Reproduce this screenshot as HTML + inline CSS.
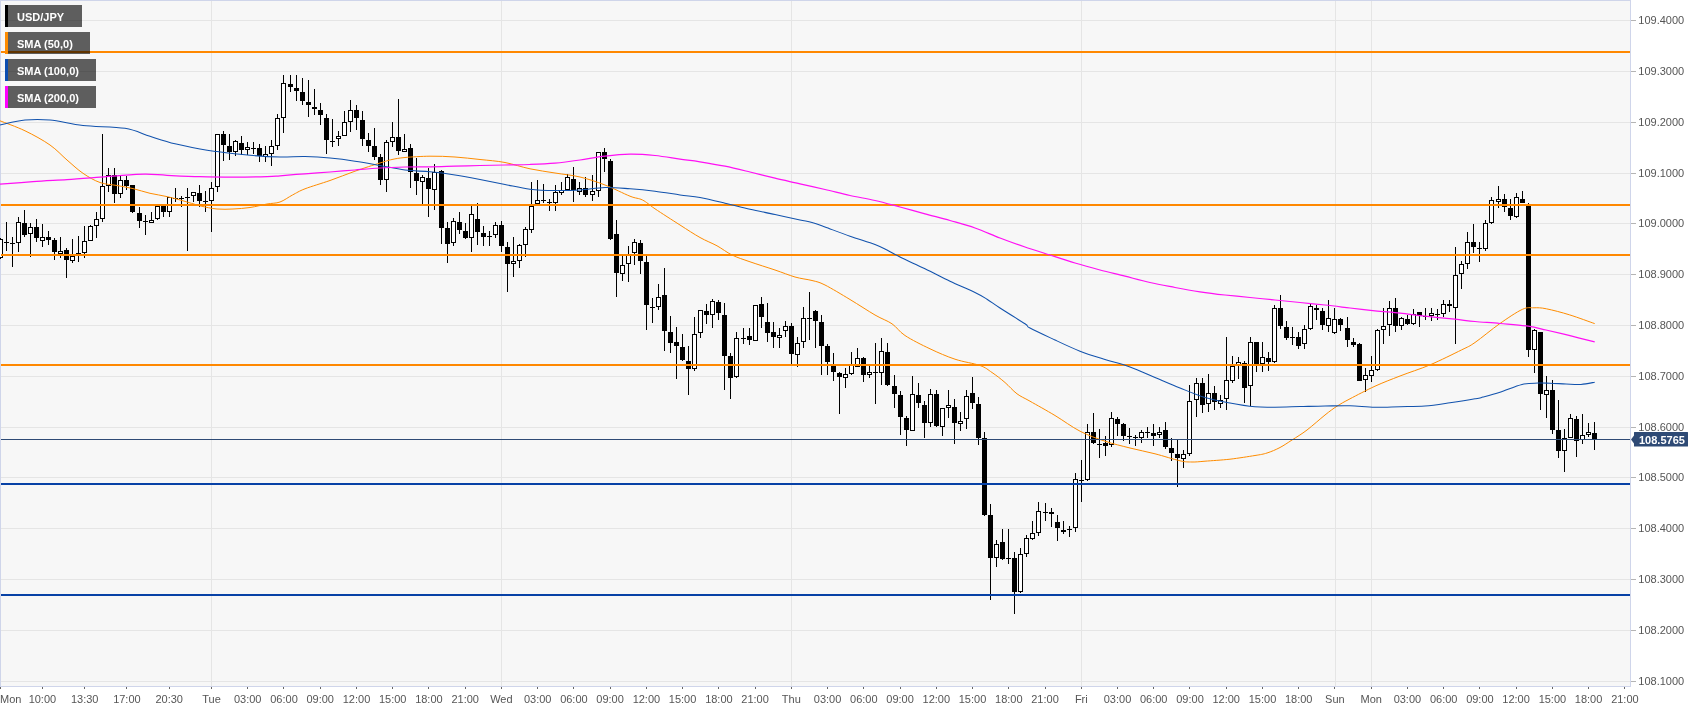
<!DOCTYPE html><html><head><meta charset="utf-8"><title>USD/JPY</title>
<style>html,body{margin:0;padding:0;background:#fff;}body{width:1707px;height:712px;overflow:hidden;font-family:"Liberation Sans",sans-serif;}svg{display:block;will-change:transform;transform:translateZ(0)}text{font-family:"Liberation Sans",sans-serif;font-size:11px;}</style></head><body>
<svg width="1707" height="712" viewBox="0 0 1707 712">
<rect x="0" y="0" width="1707" height="712" fill="#ffffff"/>
<rect x="0" y="0" width="1631" height="687" fill="#f7f7f7"/>
<g shape-rendering="crispEdges" fill="#e5e5e5">
<rect x="1" y="20" width="1629" height="1"/>
<rect x="1" y="71" width="1629" height="1"/>
<rect x="1" y="122" width="1629" height="1"/>
<rect x="1" y="173" width="1629" height="1"/>
<rect x="1" y="223" width="1629" height="1"/>
<rect x="1" y="274" width="1629" height="1"/>
<rect x="1" y="325" width="1629" height="1"/>
<rect x="1" y="376" width="1629" height="1"/>
<rect x="1" y="427" width="1629" height="1"/>
<rect x="1" y="477" width="1629" height="1"/>
<rect x="1" y="528" width="1629" height="1"/>
<rect x="1" y="579" width="1629" height="1"/>
<rect x="1" y="630" width="1629" height="1"/>
<rect x="1" y="681" width="1629" height="1"/>
<rect x="211" y="1" width="1" height="685"/>
<rect x="501" y="1" width="1" height="685"/>
<rect x="791" y="1" width="1" height="685"/>
<rect x="1081" y="1" width="1" height="685"/>
<rect x="1335" y="1" width="1" height="685"/>
<rect x="1371" y="1" width="1" height="685"/>
</g>
<g shape-rendering="crispEdges" fill="#cfd5ea">
<rect x="0" y="0" width="1631" height="1"/><rect x="0" y="0" width="1" height="687"/><rect x="1630" y="0" width="1" height="687"/><rect x="0" y="686" width="1631" height="1"/>
</g>
<g shape-rendering="crispEdges" fill="#b4b4b4">
<rect x="1631" y="20" width="5" height="1"/>
<rect x="1631" y="71" width="5" height="1"/>
<rect x="1631" y="122" width="5" height="1"/>
<rect x="1631" y="173" width="5" height="1"/>
<rect x="1631" y="223" width="5" height="1"/>
<rect x="1631" y="274" width="5" height="1"/>
<rect x="1631" y="325" width="5" height="1"/>
<rect x="1631" y="376" width="5" height="1"/>
<rect x="1631" y="427" width="5" height="1"/>
<rect x="1631" y="477" width="5" height="1"/>
<rect x="1631" y="528" width="5" height="1"/>
<rect x="1631" y="579" width="5" height="1"/>
<rect x="1631" y="630" width="5" height="1"/>
<rect x="1631" y="681" width="5" height="1"/>
</g>
<g fill="#555555">
<text x="1638.3" y="24">109.4000</text>
<text x="1638.3" y="75">109.3000</text>
<text x="1638.3" y="126">109.2000</text>
<text x="1638.3" y="177">109.1000</text>
<text x="1638.3" y="227">109.0000</text>
<text x="1638.3" y="278">108.9000</text>
<text x="1638.3" y="329">108.8000</text>
<text x="1638.3" y="380">108.7000</text>
<text x="1638.3" y="431">108.6000</text>
<text x="1638.3" y="481">108.5000</text>
<text x="1638.3" y="532">108.4000</text>
<text x="1638.3" y="583">108.3000</text>
<text x="1638.3" y="634">108.2000</text>
<text x="1638.3" y="685">108.1000</text>
</g>
<g shape-rendering="crispEdges" fill="#666666">
<rect x="0" y="687" width="1" height="2"/>
<rect x="42" y="687" width="1" height="2"/>
<rect x="84" y="687" width="1" height="2"/>
<rect x="126" y="687" width="1" height="2"/>
<rect x="169" y="687" width="1" height="2"/>
<rect x="211" y="687" width="1" height="2"/>
<rect x="247" y="687" width="1" height="2"/>
<rect x="283" y="687" width="1" height="2"/>
<rect x="320" y="687" width="1" height="2"/>
<rect x="356" y="687" width="1" height="2"/>
<rect x="392" y="687" width="1" height="2"/>
<rect x="428" y="687" width="1" height="2"/>
<rect x="465" y="687" width="1" height="2"/>
<rect x="501" y="687" width="1" height="2"/>
<rect x="537" y="687" width="1" height="2"/>
<rect x="573" y="687" width="1" height="2"/>
<rect x="610" y="687" width="1" height="2"/>
<rect x="646" y="687" width="1" height="2"/>
<rect x="682" y="687" width="1" height="2"/>
<rect x="718" y="687" width="1" height="2"/>
<rect x="755" y="687" width="1" height="2"/>
<rect x="791" y="687" width="1" height="2"/>
<rect x="827" y="687" width="1" height="2"/>
<rect x="863" y="687" width="1" height="2"/>
<rect x="900" y="687" width="1" height="2"/>
<rect x="936" y="687" width="1" height="2"/>
<rect x="972" y="687" width="1" height="2"/>
<rect x="1008" y="687" width="1" height="2"/>
<rect x="1045" y="687" width="1" height="2"/>
<rect x="1081" y="687" width="1" height="2"/>
<rect x="1117" y="687" width="1" height="2"/>
<rect x="1153" y="687" width="1" height="2"/>
<rect x="1189" y="687" width="1" height="2"/>
<rect x="1226" y="687" width="1" height="2"/>
<rect x="1262" y="687" width="1" height="2"/>
<rect x="1298" y="687" width="1" height="2"/>
<rect x="1334" y="687" width="1" height="2"/>
<rect x="1371" y="687" width="1" height="2"/>
<rect x="1407" y="687" width="1" height="2"/>
<rect x="1443" y="687" width="1" height="2"/>
<rect x="1479" y="687" width="1" height="2"/>
<rect x="1516" y="687" width="1" height="2"/>
<rect x="1552" y="687" width="1" height="2"/>
<rect x="1588" y="687" width="1" height="2"/>
<rect x="1624" y="687" width="1" height="2"/>
</g>
<g fill="#555555" text-anchor="middle">
<text x="0" y="703" text-anchor="start">Mon</text>
<text x="42.4" y="703">10:00</text>
<text x="84.7" y="703">13:30</text>
<text x="126.9" y="703">17:00</text>
<text x="169.2" y="703">20:30</text>
<text x="211.5" y="703">Tue</text>
<text x="247.7" y="703">03:00</text>
<text x="284.0" y="703">06:00</text>
<text x="320.2" y="703">09:00</text>
<text x="356.5" y="703">12:00</text>
<text x="392.7" y="703">15:00</text>
<text x="428.9" y="703">18:00</text>
<text x="465.2" y="703">21:00</text>
<text x="501.4" y="703">Wed</text>
<text x="537.7" y="703">03:00</text>
<text x="573.9" y="703">06:00</text>
<text x="610.1" y="703">09:00</text>
<text x="646.4" y="703">12:00</text>
<text x="682.6" y="703">15:00</text>
<text x="718.9" y="703">18:00</text>
<text x="755.1" y="703">21:00</text>
<text x="791.3" y="703">Thu</text>
<text x="827.6" y="703">03:00</text>
<text x="863.8" y="703">06:00</text>
<text x="900.1" y="703">09:00</text>
<text x="936.3" y="703">12:00</text>
<text x="972.5" y="703">15:00</text>
<text x="1008.8" y="703">18:00</text>
<text x="1045.0" y="703">21:00</text>
<text x="1081.3" y="703">Fri</text>
<text x="1117.5" y="703">03:00</text>
<text x="1153.7" y="703">06:00</text>
<text x="1190.0" y="703">09:00</text>
<text x="1226.2" y="703">12:00</text>
<text x="1262.5" y="703">15:00</text>
<text x="1298.7" y="703">18:00</text>
<text x="1334.9" y="703">Sun</text>
<text x="1371.2" y="703">Mon</text>
<text x="1407.4" y="703">03:00</text>
<text x="1443.7" y="703">06:00</text>
<text x="1479.9" y="703">09:00</text>
<text x="1516.1" y="703">12:00</text>
<text x="1552.4" y="703">15:00</text>
<text x="1588.6" y="703">18:00</text>
<text x="1624.9" y="703">21:00</text>
</g>
<g shape-rendering="crispEdges">
<rect x="0" y="238" width="1" height="21" fill="#000"/>
<rect x="-2" y="239" width="5" height="19" fill="#000"/>
<rect x="-1" y="240" width="3" height="17" fill="#fff"/>
<rect x="6" y="222" width="1" height="29" fill="#000"/>
<rect x="4" y="242" width="5" height="1" fill="#000"/>
<rect x="12" y="237" width="1" height="30" fill="#000"/>
<rect x="10" y="243" width="5" height="1" fill="#000"/>
<rect x="18" y="217" width="1" height="35" fill="#000"/>
<rect x="16" y="222" width="5" height="21" fill="#000"/>
<rect x="17" y="223" width="3" height="19" fill="#fff"/>
<rect x="24" y="210" width="1" height="27" fill="#000"/>
<rect x="22" y="223" width="5" height="12" fill="#000"/>
<rect x="30" y="223" width="1" height="34" fill="#000"/>
<rect x="28" y="227" width="5" height="7" fill="#000"/>
<rect x="29" y="228" width="3" height="5" fill="#fff"/>
<rect x="36" y="219" width="1" height="23" fill="#000"/>
<rect x="34" y="227" width="5" height="11" fill="#000"/>
<rect x="42" y="224" width="1" height="23" fill="#000"/>
<rect x="40" y="237" width="5" height="4" fill="#000"/>
<rect x="41" y="238" width="3" height="2" fill="#fff"/>
<rect x="48" y="231" width="1" height="14" fill="#000"/>
<rect x="46" y="237" width="5" height="3" fill="#000"/>
<rect x="54" y="238" width="1" height="22" fill="#000"/>
<rect x="52" y="240" width="5" height="12" fill="#000"/>
<rect x="60" y="237" width="1" height="21" fill="#000"/>
<rect x="58" y="251" width="5" height="3" fill="#000"/>
<rect x="59" y="252" width="3" height="1" fill="#fff"/>
<rect x="66" y="248" width="1" height="30" fill="#000"/>
<rect x="64" y="250" width="5" height="10" fill="#000"/>
<rect x="72" y="239" width="1" height="24" fill="#000"/>
<rect x="70" y="256" width="5" height="5" fill="#000"/>
<rect x="71" y="257" width="3" height="3" fill="#fff"/>
<rect x="78" y="236" width="1" height="26" fill="#000"/>
<rect x="76" y="253" width="5" height="1" fill="#000"/>
<rect x="84" y="226" width="1" height="32" fill="#000"/>
<rect x="82" y="241" width="5" height="12" fill="#000"/>
<rect x="83" y="242" width="3" height="10" fill="#fff"/>
<rect x="90" y="225" width="1" height="16" fill="#000"/>
<rect x="88" y="226" width="5" height="15" fill="#000"/>
<rect x="89" y="227" width="3" height="13" fill="#fff"/>
<rect x="96" y="212" width="1" height="26" fill="#000"/>
<rect x="94" y="219" width="5" height="7" fill="#000"/>
<rect x="95" y="220" width="3" height="5" fill="#fff"/>
<rect x="102" y="134" width="1" height="88" fill="#000"/>
<rect x="100" y="186" width="5" height="33" fill="#000"/>
<rect x="101" y="187" width="3" height="31" fill="#fff"/>
<rect x="108" y="168" width="1" height="24" fill="#000"/>
<rect x="106" y="175" width="5" height="11" fill="#000"/>
<rect x="107" y="176" width="3" height="9" fill="#fff"/>
<rect x="114" y="168" width="1" height="35" fill="#000"/>
<rect x="112" y="175" width="5" height="19" fill="#000"/>
<rect x="120" y="176" width="1" height="22" fill="#000"/>
<rect x="118" y="180" width="5" height="14" fill="#000"/>
<rect x="119" y="181" width="3" height="12" fill="#fff"/>
<rect x="126" y="176" width="1" height="14" fill="#000"/>
<rect x="124" y="180" width="5" height="6" fill="#000"/>
<rect x="132" y="185" width="1" height="28" fill="#000"/>
<rect x="130" y="185" width="5" height="27" fill="#000"/>
<rect x="139" y="207" width="1" height="21" fill="#000"/>
<rect x="137" y="213" width="5" height="8" fill="#000"/>
<rect x="145" y="215" width="1" height="20" fill="#000"/>
<rect x="143" y="221" width="5" height="1" fill="#000"/>
<rect x="151" y="212" width="1" height="11" fill="#000"/>
<rect x="149" y="220" width="5" height="3" fill="#000"/>
<rect x="150" y="221" width="3" height="1" fill="#fff"/>
<rect x="157" y="206" width="1" height="14" fill="#000"/>
<rect x="155" y="206" width="5" height="13" fill="#000"/>
<rect x="156" y="207" width="3" height="11" fill="#fff"/>
<rect x="163" y="205" width="1" height="12" fill="#000"/>
<rect x="161" y="206" width="5" height="6" fill="#000"/>
<rect x="169" y="197" width="1" height="20" fill="#000"/>
<rect x="167" y="197" width="5" height="15" fill="#000"/>
<rect x="168" y="198" width="3" height="13" fill="#fff"/>
<rect x="175" y="188" width="1" height="14" fill="#000"/>
<rect x="173" y="198" width="5" height="1" fill="#000"/>
<rect x="181" y="196" width="1" height="11" fill="#000"/>
<rect x="179" y="198" width="5" height="1" fill="#000"/>
<rect x="187" y="188" width="1" height="63" fill="#000"/>
<rect x="185" y="197" width="5" height="1" fill="#000"/>
<rect x="193" y="192" width="1" height="10" fill="#000"/>
<rect x="191" y="192" width="5" height="4" fill="#000"/>
<rect x="192" y="193" width="3" height="2" fill="#fff"/>
<rect x="199" y="185" width="1" height="22" fill="#000"/>
<rect x="197" y="193" width="5" height="8" fill="#000"/>
<rect x="205" y="191" width="1" height="21" fill="#000"/>
<rect x="203" y="201" width="5" height="1" fill="#000"/>
<rect x="211" y="182" width="1" height="50" fill="#000"/>
<rect x="209" y="188" width="5" height="13" fill="#000"/>
<rect x="210" y="189" width="3" height="11" fill="#fff"/>
<rect x="217" y="134" width="1" height="58" fill="#000"/>
<rect x="215" y="134" width="5" height="53" fill="#000"/>
<rect x="216" y="135" width="3" height="51" fill="#fff"/>
<rect x="223" y="131" width="1" height="30" fill="#000"/>
<rect x="221" y="134" width="5" height="11" fill="#000"/>
<rect x="229" y="134" width="1" height="26" fill="#000"/>
<rect x="227" y="146" width="5" height="6" fill="#000"/>
<rect x="235" y="140" width="1" height="16" fill="#000"/>
<rect x="233" y="141" width="5" height="11" fill="#000"/>
<rect x="234" y="142" width="3" height="9" fill="#fff"/>
<rect x="241" y="136" width="1" height="19" fill="#000"/>
<rect x="239" y="143" width="5" height="7" fill="#000"/>
<rect x="247" y="142" width="1" height="13" fill="#000"/>
<rect x="245" y="147" width="5" height="3" fill="#000"/>
<rect x="246" y="148" width="3" height="1" fill="#fff"/>
<rect x="253" y="142" width="1" height="12" fill="#000"/>
<rect x="251" y="148" width="5" height="1" fill="#000"/>
<rect x="259" y="144" width="1" height="18" fill="#000"/>
<rect x="257" y="148" width="5" height="8" fill="#000"/>
<rect x="265" y="146" width="1" height="16" fill="#000"/>
<rect x="263" y="154" width="5" height="3" fill="#000"/>
<rect x="264" y="155" width="3" height="1" fill="#fff"/>
<rect x="271" y="140" width="1" height="26" fill="#000"/>
<rect x="269" y="146" width="5" height="8" fill="#000"/>
<rect x="270" y="147" width="3" height="6" fill="#fff"/>
<rect x="277" y="114" width="1" height="36" fill="#000"/>
<rect x="275" y="118" width="5" height="28" fill="#000"/>
<rect x="276" y="119" width="3" height="26" fill="#fff"/>
<rect x="283" y="75" width="1" height="58" fill="#000"/>
<rect x="281" y="83" width="5" height="35" fill="#000"/>
<rect x="282" y="84" width="3" height="33" fill="#fff"/>
<rect x="290" y="75" width="1" height="17" fill="#000"/>
<rect x="288" y="84" width="5" height="3" fill="#000"/>
<rect x="296" y="75" width="1" height="26" fill="#000"/>
<rect x="294" y="88" width="5" height="3" fill="#000"/>
<rect x="302" y="78" width="1" height="27" fill="#000"/>
<rect x="300" y="92" width="5" height="9" fill="#000"/>
<rect x="308" y="80" width="1" height="37" fill="#000"/>
<rect x="306" y="102" width="5" height="3" fill="#000"/>
<rect x="314" y="89" width="1" height="26" fill="#000"/>
<rect x="312" y="107" width="5" height="2" fill="#000"/>
<rect x="320" y="103" width="1" height="22" fill="#000"/>
<rect x="318" y="110" width="5" height="5" fill="#000"/>
<rect x="326" y="114" width="1" height="40" fill="#000"/>
<rect x="324" y="118" width="5" height="22" fill="#000"/>
<rect x="332" y="119" width="1" height="28" fill="#000"/>
<rect x="330" y="141" width="5" height="1" fill="#000"/>
<rect x="338" y="131" width="1" height="15" fill="#000"/>
<rect x="336" y="136" width="5" height="3" fill="#000"/>
<rect x="337" y="137" width="3" height="1" fill="#fff"/>
<rect x="344" y="111" width="1" height="25" fill="#000"/>
<rect x="342" y="122" width="5" height="14" fill="#000"/>
<rect x="343" y="123" width="3" height="12" fill="#fff"/>
<rect x="350" y="100" width="1" height="32" fill="#000"/>
<rect x="348" y="110" width="5" height="12" fill="#000"/>
<rect x="349" y="111" width="3" height="10" fill="#fff"/>
<rect x="356" y="105" width="1" height="25" fill="#000"/>
<rect x="354" y="110" width="5" height="8" fill="#000"/>
<rect x="362" y="111" width="1" height="35" fill="#000"/>
<rect x="360" y="120" width="5" height="19" fill="#000"/>
<rect x="368" y="133" width="1" height="19" fill="#000"/>
<rect x="366" y="140" width="5" height="6" fill="#000"/>
<rect x="374" y="128" width="1" height="32" fill="#000"/>
<rect x="372" y="146" width="5" height="11" fill="#000"/>
<rect x="380" y="154" width="1" height="31" fill="#000"/>
<rect x="378" y="157" width="5" height="23" fill="#000"/>
<rect x="386" y="140" width="1" height="52" fill="#000"/>
<rect x="384" y="142" width="5" height="38" fill="#000"/>
<rect x="385" y="143" width="3" height="36" fill="#fff"/>
<rect x="392" y="122" width="1" height="25" fill="#000"/>
<rect x="390" y="137" width="5" height="5" fill="#000"/>
<rect x="391" y="138" width="3" height="3" fill="#fff"/>
<rect x="398" y="99" width="1" height="56" fill="#000"/>
<rect x="396" y="137" width="5" height="14" fill="#000"/>
<rect x="404" y="134" width="1" height="18" fill="#000"/>
<rect x="402" y="149" width="5" height="3" fill="#000"/>
<rect x="403" y="150" width="3" height="1" fill="#fff"/>
<rect x="410" y="144" width="1" height="44" fill="#000"/>
<rect x="408" y="148" width="5" height="24" fill="#000"/>
<rect x="416" y="158" width="1" height="37" fill="#000"/>
<rect x="414" y="173" width="5" height="8" fill="#000"/>
<rect x="422" y="175" width="1" height="29" fill="#000"/>
<rect x="420" y="177" width="5" height="5" fill="#000"/>
<rect x="421" y="178" width="3" height="3" fill="#fff"/>
<rect x="428" y="168" width="1" height="49" fill="#000"/>
<rect x="426" y="178" width="5" height="11" fill="#000"/>
<rect x="434" y="164" width="1" height="46" fill="#000"/>
<rect x="432" y="172" width="5" height="18" fill="#000"/>
<rect x="433" y="173" width="3" height="16" fill="#fff"/>
<rect x="441" y="170" width="1" height="74" fill="#000"/>
<rect x="439" y="171" width="5" height="57" fill="#000"/>
<rect x="447" y="222" width="1" height="41" fill="#000"/>
<rect x="445" y="228" width="5" height="16" fill="#000"/>
<rect x="453" y="218" width="1" height="28" fill="#000"/>
<rect x="451" y="221" width="5" height="22" fill="#000"/>
<rect x="452" y="222" width="3" height="20" fill="#fff"/>
<rect x="459" y="212" width="1" height="22" fill="#000"/>
<rect x="457" y="222" width="5" height="8" fill="#000"/>
<rect x="465" y="223" width="1" height="16" fill="#000"/>
<rect x="463" y="231" width="5" height="7" fill="#000"/>
<rect x="471" y="206" width="1" height="46" fill="#000"/>
<rect x="469" y="214" width="5" height="24" fill="#000"/>
<rect x="470" y="215" width="3" height="22" fill="#fff"/>
<rect x="477" y="203" width="1" height="42" fill="#000"/>
<rect x="475" y="219" width="5" height="13" fill="#000"/>
<rect x="483" y="226" width="1" height="20" fill="#000"/>
<rect x="481" y="233" width="5" height="4" fill="#000"/>
<rect x="489" y="231" width="1" height="15" fill="#000"/>
<rect x="487" y="236" width="5" height="1" fill="#000"/>
<rect x="495" y="222" width="1" height="16" fill="#000"/>
<rect x="493" y="225" width="5" height="10" fill="#000"/>
<rect x="494" y="226" width="3" height="8" fill="#fff"/>
<rect x="501" y="221" width="1" height="31" fill="#000"/>
<rect x="499" y="225" width="5" height="21" fill="#000"/>
<rect x="507" y="242" width="1" height="50" fill="#000"/>
<rect x="505" y="247" width="5" height="17" fill="#000"/>
<rect x="513" y="237" width="1" height="40" fill="#000"/>
<rect x="511" y="261" width="5" height="3" fill="#000"/>
<rect x="512" y="262" width="3" height="1" fill="#fff"/>
<rect x="519" y="244" width="1" height="24" fill="#000"/>
<rect x="517" y="245" width="5" height="16" fill="#000"/>
<rect x="518" y="246" width="3" height="14" fill="#fff"/>
<rect x="525" y="227" width="1" height="30" fill="#000"/>
<rect x="523" y="229" width="5" height="16" fill="#000"/>
<rect x="524" y="230" width="3" height="14" fill="#fff"/>
<rect x="531" y="182" width="1" height="51" fill="#000"/>
<rect x="529" y="206" width="5" height="24" fill="#000"/>
<rect x="530" y="207" width="3" height="22" fill="#fff"/>
<rect x="537" y="180" width="1" height="25" fill="#000"/>
<rect x="535" y="200" width="5" height="4" fill="#000"/>
<rect x="536" y="201" width="3" height="2" fill="#fff"/>
<rect x="543" y="184" width="1" height="19" fill="#000"/>
<rect x="541" y="200" width="5" height="1" fill="#000"/>
<rect x="549" y="199" width="1" height="12" fill="#000"/>
<rect x="547" y="202" width="5" height="1" fill="#000"/>
<rect x="555" y="185" width="1" height="26" fill="#000"/>
<rect x="553" y="192" width="5" height="11" fill="#000"/>
<rect x="554" y="193" width="3" height="9" fill="#fff"/>
<rect x="561" y="182" width="1" height="13" fill="#000"/>
<rect x="559" y="190" width="5" height="3" fill="#000"/>
<rect x="560" y="191" width="3" height="1" fill="#fff"/>
<rect x="567" y="174" width="1" height="16" fill="#000"/>
<rect x="565" y="177" width="5" height="13" fill="#000"/>
<rect x="566" y="178" width="3" height="11" fill="#fff"/>
<rect x="573" y="167" width="1" height="35" fill="#000"/>
<rect x="571" y="179" width="5" height="11" fill="#000"/>
<rect x="579" y="182" width="1" height="13" fill="#000"/>
<rect x="577" y="188" width="5" height="4" fill="#000"/>
<rect x="578" y="189" width="3" height="2" fill="#fff"/>
<rect x="585" y="177" width="1" height="20" fill="#000"/>
<rect x="583" y="188" width="5" height="7" fill="#000"/>
<rect x="592" y="175" width="1" height="26" fill="#000"/>
<rect x="590" y="191" width="5" height="4" fill="#000"/>
<rect x="591" y="192" width="3" height="2" fill="#fff"/>
<rect x="598" y="152" width="1" height="45" fill="#000"/>
<rect x="596" y="152" width="5" height="39" fill="#000"/>
<rect x="597" y="153" width="3" height="37" fill="#fff"/>
<rect x="604" y="148" width="1" height="24" fill="#000"/>
<rect x="602" y="152" width="5" height="7" fill="#000"/>
<rect x="610" y="159" width="1" height="81" fill="#000"/>
<rect x="608" y="161" width="5" height="78" fill="#000"/>
<rect x="616" y="220" width="1" height="77" fill="#000"/>
<rect x="614" y="234" width="5" height="39" fill="#000"/>
<rect x="622" y="256" width="1" height="25" fill="#000"/>
<rect x="620" y="265" width="5" height="9" fill="#000"/>
<rect x="621" y="266" width="3" height="7" fill="#fff"/>
<rect x="628" y="246" width="1" height="36" fill="#000"/>
<rect x="626" y="254" width="5" height="10" fill="#000"/>
<rect x="627" y="255" width="3" height="8" fill="#fff"/>
<rect x="634" y="239" width="1" height="26" fill="#000"/>
<rect x="632" y="242" width="5" height="11" fill="#000"/>
<rect x="633" y="243" width="3" height="9" fill="#fff"/>
<rect x="640" y="240" width="1" height="34" fill="#000"/>
<rect x="638" y="243" width="5" height="18" fill="#000"/>
<rect x="646" y="256" width="1" height="74" fill="#000"/>
<rect x="644" y="262" width="5" height="43" fill="#000"/>
<rect x="652" y="298" width="1" height="25" fill="#000"/>
<rect x="650" y="307" width="5" height="1" fill="#000"/>
<rect x="658" y="284" width="1" height="26" fill="#000"/>
<rect x="656" y="297" width="5" height="10" fill="#000"/>
<rect x="657" y="298" width="3" height="8" fill="#fff"/>
<rect x="664" y="268" width="1" height="83" fill="#000"/>
<rect x="662" y="295" width="5" height="36" fill="#000"/>
<rect x="670" y="316" width="1" height="37" fill="#000"/>
<rect x="668" y="332" width="5" height="11" fill="#000"/>
<rect x="676" y="327" width="1" height="52" fill="#000"/>
<rect x="674" y="342" width="5" height="4" fill="#000"/>
<rect x="682" y="334" width="1" height="27" fill="#000"/>
<rect x="680" y="347" width="5" height="13" fill="#000"/>
<rect x="688" y="346" width="1" height="49" fill="#000"/>
<rect x="686" y="361" width="5" height="8" fill="#000"/>
<rect x="694" y="317" width="1" height="54" fill="#000"/>
<rect x="692" y="334" width="5" height="35" fill="#000"/>
<rect x="693" y="335" width="3" height="33" fill="#fff"/>
<rect x="700" y="310" width="1" height="28" fill="#000"/>
<rect x="698" y="310" width="5" height="23" fill="#000"/>
<rect x="699" y="311" width="3" height="21" fill="#fff"/>
<rect x="706" y="304" width="1" height="20" fill="#000"/>
<rect x="704" y="311" width="5" height="4" fill="#000"/>
<rect x="712" y="299" width="1" height="29" fill="#000"/>
<rect x="710" y="301" width="5" height="14" fill="#000"/>
<rect x="711" y="302" width="3" height="12" fill="#fff"/>
<rect x="718" y="300" width="1" height="20" fill="#000"/>
<rect x="716" y="302" width="5" height="11" fill="#000"/>
<rect x="724" y="303" width="1" height="87" fill="#000"/>
<rect x="722" y="315" width="5" height="41" fill="#000"/>
<rect x="730" y="353" width="1" height="46" fill="#000"/>
<rect x="728" y="356" width="5" height="22" fill="#000"/>
<rect x="736" y="332" width="1" height="46" fill="#000"/>
<rect x="734" y="338" width="5" height="39" fill="#000"/>
<rect x="735" y="339" width="3" height="37" fill="#fff"/>
<rect x="743" y="328" width="1" height="16" fill="#000"/>
<rect x="741" y="338" width="5" height="1" fill="#000"/>
<rect x="749" y="328" width="1" height="17" fill="#000"/>
<rect x="747" y="336" width="5" height="4" fill="#000"/>
<rect x="755" y="305" width="1" height="36" fill="#000"/>
<rect x="753" y="305" width="5" height="36" fill="#000"/>
<rect x="754" y="306" width="3" height="34" fill="#fff"/>
<rect x="761" y="297" width="1" height="31" fill="#000"/>
<rect x="759" y="304" width="5" height="13" fill="#000"/>
<rect x="767" y="303" width="1" height="39" fill="#000"/>
<rect x="765" y="322" width="5" height="11" fill="#000"/>
<rect x="773" y="322" width="1" height="26" fill="#000"/>
<rect x="771" y="332" width="5" height="5" fill="#000"/>
<rect x="779" y="328" width="1" height="20" fill="#000"/>
<rect x="777" y="335" width="5" height="3" fill="#000"/>
<rect x="778" y="336" width="3" height="1" fill="#fff"/>
<rect x="785" y="321" width="1" height="16" fill="#000"/>
<rect x="783" y="326" width="5" height="5" fill="#000"/>
<rect x="784" y="327" width="3" height="3" fill="#fff"/>
<rect x="791" y="323" width="1" height="42" fill="#000"/>
<rect x="789" y="326" width="5" height="28" fill="#000"/>
<rect x="797" y="337" width="1" height="30" fill="#000"/>
<rect x="795" y="343" width="5" height="12" fill="#000"/>
<rect x="796" y="344" width="3" height="10" fill="#fff"/>
<rect x="803" y="307" width="1" height="41" fill="#000"/>
<rect x="801" y="318" width="5" height="24" fill="#000"/>
<rect x="802" y="319" width="3" height="22" fill="#fff"/>
<rect x="809" y="292" width="1" height="48" fill="#000"/>
<rect x="807" y="318" width="5" height="1" fill="#000"/>
<rect x="815" y="310" width="1" height="38" fill="#000"/>
<rect x="813" y="311" width="5" height="10" fill="#000"/>
<rect x="821" y="315" width="1" height="60" fill="#000"/>
<rect x="819" y="322" width="5" height="24" fill="#000"/>
<rect x="827" y="344" width="1" height="31" fill="#000"/>
<rect x="825" y="346" width="5" height="16" fill="#000"/>
<rect x="833" y="353" width="1" height="28" fill="#000"/>
<rect x="831" y="364" width="5" height="8" fill="#000"/>
<rect x="839" y="372" width="1" height="42" fill="#000"/>
<rect x="837" y="373" width="5" height="4" fill="#000"/>
<rect x="845" y="368" width="1" height="20" fill="#000"/>
<rect x="843" y="374" width="5" height="4" fill="#000"/>
<rect x="844" y="375" width="3" height="2" fill="#fff"/>
<rect x="851" y="352" width="1" height="23" fill="#000"/>
<rect x="849" y="364" width="5" height="10" fill="#000"/>
<rect x="850" y="365" width="3" height="8" fill="#fff"/>
<rect x="857" y="348" width="1" height="19" fill="#000"/>
<rect x="855" y="358" width="5" height="9" fill="#000"/>
<rect x="856" y="359" width="3" height="7" fill="#fff"/>
<rect x="863" y="357" width="1" height="25" fill="#000"/>
<rect x="861" y="358" width="5" height="17" fill="#000"/>
<rect x="869" y="364" width="1" height="14" fill="#000"/>
<rect x="867" y="372" width="5" height="3" fill="#000"/>
<rect x="868" y="373" width="3" height="1" fill="#fff"/>
<rect x="875" y="343" width="1" height="61" fill="#000"/>
<rect x="873" y="372" width="5" height="1" fill="#000"/>
<rect x="881" y="338" width="1" height="47" fill="#000"/>
<rect x="879" y="351" width="5" height="22" fill="#000"/>
<rect x="880" y="352" width="3" height="20" fill="#fff"/>
<rect x="887" y="343" width="1" height="43" fill="#000"/>
<rect x="885" y="352" width="5" height="33" fill="#000"/>
<rect x="894" y="375" width="1" height="33" fill="#000"/>
<rect x="892" y="386" width="5" height="8" fill="#000"/>
<rect x="900" y="391" width="1" height="44" fill="#000"/>
<rect x="898" y="395" width="5" height="22" fill="#000"/>
<rect x="906" y="416" width="1" height="30" fill="#000"/>
<rect x="904" y="418" width="5" height="12" fill="#000"/>
<rect x="912" y="376" width="1" height="55" fill="#000"/>
<rect x="910" y="394" width="5" height="37" fill="#000"/>
<rect x="911" y="395" width="3" height="35" fill="#fff"/>
<rect x="918" y="383" width="1" height="25" fill="#000"/>
<rect x="916" y="395" width="5" height="8" fill="#000"/>
<rect x="924" y="401" width="1" height="37" fill="#000"/>
<rect x="922" y="405" width="5" height="18" fill="#000"/>
<rect x="930" y="389" width="1" height="38" fill="#000"/>
<rect x="928" y="394" width="5" height="29" fill="#000"/>
<rect x="929" y="395" width="3" height="27" fill="#fff"/>
<rect x="936" y="390" width="1" height="37" fill="#000"/>
<rect x="934" y="394" width="5" height="32" fill="#000"/>
<rect x="942" y="408" width="1" height="28" fill="#000"/>
<rect x="940" y="408" width="5" height="19" fill="#000"/>
<rect x="941" y="409" width="3" height="17" fill="#fff"/>
<rect x="948" y="390" width="1" height="28" fill="#000"/>
<rect x="946" y="405" width="5" height="3" fill="#000"/>
<rect x="947" y="406" width="3" height="1" fill="#fff"/>
<rect x="954" y="399" width="1" height="45" fill="#000"/>
<rect x="952" y="407" width="5" height="16" fill="#000"/>
<rect x="960" y="412" width="1" height="19" fill="#000"/>
<rect x="958" y="421" width="5" height="3" fill="#000"/>
<rect x="959" y="422" width="3" height="1" fill="#fff"/>
<rect x="966" y="390" width="1" height="39" fill="#000"/>
<rect x="964" y="396" width="5" height="23" fill="#000"/>
<rect x="965" y="397" width="3" height="21" fill="#fff"/>
<rect x="972" y="377" width="1" height="32" fill="#000"/>
<rect x="970" y="393" width="5" height="10" fill="#000"/>
<rect x="978" y="397" width="1" height="48" fill="#000"/>
<rect x="976" y="404" width="5" height="34" fill="#000"/>
<rect x="984" y="432" width="1" height="84" fill="#000"/>
<rect x="982" y="438" width="5" height="77" fill="#000"/>
<rect x="990" y="504" width="1" height="96" fill="#000"/>
<rect x="988" y="515" width="5" height="43" fill="#000"/>
<rect x="996" y="540" width="1" height="27" fill="#000"/>
<rect x="994" y="544" width="5" height="14" fill="#000"/>
<rect x="995" y="545" width="3" height="12" fill="#fff"/>
<rect x="1002" y="529" width="1" height="31" fill="#000"/>
<rect x="1000" y="542" width="5" height="17" fill="#000"/>
<rect x="1008" y="529" width="1" height="35" fill="#000"/>
<rect x="1006" y="558" width="5" height="1" fill="#000"/>
<rect x="1014" y="552" width="1" height="62" fill="#000"/>
<rect x="1012" y="558" width="5" height="34" fill="#000"/>
<rect x="1020" y="548" width="1" height="45" fill="#000"/>
<rect x="1018" y="554" width="5" height="38" fill="#000"/>
<rect x="1019" y="555" width="3" height="36" fill="#fff"/>
<rect x="1026" y="535" width="1" height="22" fill="#000"/>
<rect x="1024" y="538" width="5" height="16" fill="#000"/>
<rect x="1025" y="539" width="3" height="14" fill="#fff"/>
<rect x="1032" y="521" width="1" height="19" fill="#000"/>
<rect x="1030" y="533" width="5" height="6" fill="#000"/>
<rect x="1031" y="534" width="3" height="4" fill="#fff"/>
<rect x="1038" y="502" width="1" height="34" fill="#000"/>
<rect x="1036" y="511" width="5" height="22" fill="#000"/>
<rect x="1037" y="512" width="3" height="20" fill="#fff"/>
<rect x="1045" y="503" width="1" height="18" fill="#000"/>
<rect x="1043" y="512" width="5" height="1" fill="#000"/>
<rect x="1051" y="508" width="1" height="19" fill="#000"/>
<rect x="1049" y="512" width="5" height="2" fill="#000"/>
<rect x="1057" y="515" width="1" height="26" fill="#000"/>
<rect x="1055" y="522" width="5" height="6" fill="#000"/>
<rect x="1063" y="521" width="1" height="13" fill="#000"/>
<rect x="1061" y="530" width="5" height="2" fill="#000"/>
<rect x="1069" y="526" width="1" height="11" fill="#000"/>
<rect x="1067" y="529" width="5" height="1" fill="#000"/>
<rect x="1075" y="473" width="1" height="59" fill="#000"/>
<rect x="1073" y="479" width="5" height="49" fill="#000"/>
<rect x="1074" y="480" width="3" height="47" fill="#fff"/>
<rect x="1081" y="460" width="1" height="42" fill="#000"/>
<rect x="1079" y="480" width="5" height="1" fill="#000"/>
<rect x="1087" y="424" width="1" height="57" fill="#000"/>
<rect x="1085" y="432" width="5" height="48" fill="#000"/>
<rect x="1086" y="433" width="3" height="46" fill="#fff"/>
<rect x="1093" y="413" width="1" height="31" fill="#000"/>
<rect x="1091" y="432" width="5" height="11" fill="#000"/>
<rect x="1099" y="429" width="1" height="29" fill="#000"/>
<rect x="1097" y="444" width="5" height="1" fill="#000"/>
<rect x="1105" y="436" width="1" height="20" fill="#000"/>
<rect x="1103" y="443" width="5" height="3" fill="#000"/>
<rect x="1111" y="412" width="1" height="35" fill="#000"/>
<rect x="1109" y="418" width="5" height="27" fill="#000"/>
<rect x="1110" y="419" width="3" height="25" fill="#fff"/>
<rect x="1117" y="417" width="1" height="19" fill="#000"/>
<rect x="1115" y="419" width="5" height="5" fill="#000"/>
<rect x="1123" y="423" width="1" height="18" fill="#000"/>
<rect x="1121" y="424" width="5" height="12" fill="#000"/>
<rect x="1129" y="428" width="1" height="16" fill="#000"/>
<rect x="1127" y="436" width="5" height="1" fill="#000"/>
<rect x="1135" y="435" width="1" height="11" fill="#000"/>
<rect x="1133" y="437" width="5" height="1" fill="#000"/>
<rect x="1141" y="430" width="1" height="13" fill="#000"/>
<rect x="1139" y="432" width="5" height="6" fill="#000"/>
<rect x="1140" y="433" width="3" height="4" fill="#fff"/>
<rect x="1147" y="427" width="1" height="11" fill="#000"/>
<rect x="1145" y="432" width="5" height="1" fill="#000"/>
<rect x="1153" y="424" width="1" height="22" fill="#000"/>
<rect x="1151" y="433" width="5" height="3" fill="#000"/>
<rect x="1159" y="427" width="1" height="11" fill="#000"/>
<rect x="1157" y="432" width="5" height="3" fill="#000"/>
<rect x="1158" y="433" width="3" height="1" fill="#fff"/>
<rect x="1165" y="422" width="1" height="27" fill="#000"/>
<rect x="1163" y="430" width="5" height="17" fill="#000"/>
<rect x="1171" y="438" width="1" height="23" fill="#000"/>
<rect x="1169" y="448" width="5" height="5" fill="#000"/>
<rect x="1177" y="440" width="1" height="47" fill="#000"/>
<rect x="1175" y="454" width="5" height="4" fill="#000"/>
<rect x="1183" y="450" width="1" height="18" fill="#000"/>
<rect x="1181" y="454" width="5" height="5" fill="#000"/>
<rect x="1182" y="455" width="3" height="3" fill="#fff"/>
<rect x="1189" y="385" width="1" height="71" fill="#000"/>
<rect x="1187" y="401" width="5" height="53" fill="#000"/>
<rect x="1188" y="402" width="3" height="51" fill="#fff"/>
<rect x="1196" y="378" width="1" height="39" fill="#000"/>
<rect x="1194" y="383" width="5" height="17" fill="#000"/>
<rect x="1195" y="384" width="3" height="15" fill="#fff"/>
<rect x="1202" y="378" width="1" height="35" fill="#000"/>
<rect x="1200" y="383" width="5" height="22" fill="#000"/>
<rect x="1208" y="374" width="1" height="38" fill="#000"/>
<rect x="1206" y="393" width="5" height="11" fill="#000"/>
<rect x="1207" y="394" width="3" height="9" fill="#fff"/>
<rect x="1214" y="386" width="1" height="24" fill="#000"/>
<rect x="1212" y="393" width="5" height="9" fill="#000"/>
<rect x="1220" y="395" width="1" height="13" fill="#000"/>
<rect x="1218" y="400" width="5" height="4" fill="#000"/>
<rect x="1219" y="401" width="3" height="2" fill="#fff"/>
<rect x="1226" y="337" width="1" height="73" fill="#000"/>
<rect x="1224" y="380" width="5" height="19" fill="#000"/>
<rect x="1225" y="381" width="3" height="17" fill="#fff"/>
<rect x="1232" y="356" width="1" height="27" fill="#000"/>
<rect x="1230" y="366" width="5" height="15" fill="#000"/>
<rect x="1231" y="367" width="3" height="13" fill="#fff"/>
<rect x="1238" y="357" width="1" height="22" fill="#000"/>
<rect x="1236" y="362" width="5" height="3" fill="#000"/>
<rect x="1237" y="363" width="3" height="1" fill="#fff"/>
<rect x="1244" y="361" width="1" height="42" fill="#000"/>
<rect x="1242" y="363" width="5" height="25" fill="#000"/>
<rect x="1250" y="337" width="1" height="69" fill="#000"/>
<rect x="1248" y="342" width="5" height="44" fill="#000"/>
<rect x="1249" y="343" width="3" height="42" fill="#fff"/>
<rect x="1256" y="342" width="1" height="30" fill="#000"/>
<rect x="1254" y="342" width="5" height="22" fill="#000"/>
<rect x="1262" y="342" width="1" height="30" fill="#000"/>
<rect x="1260" y="357" width="5" height="7" fill="#000"/>
<rect x="1261" y="358" width="3" height="5" fill="#fff"/>
<rect x="1268" y="352" width="1" height="19" fill="#000"/>
<rect x="1266" y="358" width="5" height="4" fill="#000"/>
<rect x="1274" y="305" width="1" height="58" fill="#000"/>
<rect x="1272" y="308" width="5" height="54" fill="#000"/>
<rect x="1273" y="309" width="3" height="52" fill="#fff"/>
<rect x="1280" y="295" width="1" height="34" fill="#000"/>
<rect x="1278" y="308" width="5" height="18" fill="#000"/>
<rect x="1286" y="321" width="1" height="19" fill="#000"/>
<rect x="1284" y="327" width="5" height="11" fill="#000"/>
<rect x="1292" y="327" width="1" height="18" fill="#000"/>
<rect x="1290" y="337" width="5" height="1" fill="#000"/>
<rect x="1298" y="332" width="1" height="17" fill="#000"/>
<rect x="1296" y="337" width="5" height="9" fill="#000"/>
<rect x="1304" y="325" width="1" height="24" fill="#000"/>
<rect x="1302" y="329" width="5" height="15" fill="#000"/>
<rect x="1303" y="330" width="3" height="13" fill="#fff"/>
<rect x="1310" y="303" width="1" height="27" fill="#000"/>
<rect x="1308" y="306" width="5" height="23" fill="#000"/>
<rect x="1309" y="307" width="3" height="21" fill="#fff"/>
<rect x="1316" y="305" width="1" height="15" fill="#000"/>
<rect x="1314" y="308" width="5" height="2" fill="#000"/>
<rect x="1322" y="308" width="1" height="22" fill="#000"/>
<rect x="1320" y="311" width="5" height="14" fill="#000"/>
<rect x="1328" y="300" width="1" height="32" fill="#000"/>
<rect x="1326" y="318" width="5" height="8" fill="#000"/>
<rect x="1327" y="319" width="3" height="6" fill="#fff"/>
<rect x="1334" y="308" width="1" height="26" fill="#000"/>
<rect x="1332" y="319" width="5" height="14" fill="#000"/>
<rect x="1333" y="320" width="3" height="12" fill="#fff"/>
<rect x="1340" y="318" width="1" height="13" fill="#000"/>
<rect x="1338" y="319" width="5" height="6" fill="#000"/>
<rect x="1347" y="317" width="1" height="30" fill="#000"/>
<rect x="1345" y="328" width="5" height="12" fill="#000"/>
<rect x="1353" y="338" width="1" height="9" fill="#000"/>
<rect x="1351" y="342" width="5" height="3" fill="#000"/>
<rect x="1359" y="343" width="1" height="38" fill="#000"/>
<rect x="1357" y="344" width="5" height="37" fill="#000"/>
<rect x="1365" y="368" width="1" height="24" fill="#000"/>
<rect x="1363" y="375" width="5" height="5" fill="#000"/>
<rect x="1364" y="376" width="3" height="3" fill="#fff"/>
<rect x="1371" y="356" width="1" height="26" fill="#000"/>
<rect x="1369" y="370" width="5" height="6" fill="#000"/>
<rect x="1370" y="371" width="3" height="4" fill="#fff"/>
<rect x="1377" y="329" width="1" height="42" fill="#000"/>
<rect x="1375" y="330" width="5" height="40" fill="#000"/>
<rect x="1376" y="331" width="3" height="38" fill="#fff"/>
<rect x="1383" y="308" width="1" height="36" fill="#000"/>
<rect x="1381" y="326" width="5" height="4" fill="#000"/>
<rect x="1382" y="327" width="3" height="2" fill="#fff"/>
<rect x="1389" y="301" width="1" height="35" fill="#000"/>
<rect x="1387" y="308" width="5" height="17" fill="#000"/>
<rect x="1388" y="309" width="3" height="15" fill="#fff"/>
<rect x="1395" y="298" width="1" height="34" fill="#000"/>
<rect x="1393" y="308" width="5" height="18" fill="#000"/>
<rect x="1401" y="317" width="1" height="13" fill="#000"/>
<rect x="1399" y="318" width="5" height="8" fill="#000"/>
<rect x="1400" y="319" width="3" height="6" fill="#fff"/>
<rect x="1407" y="315" width="1" height="10" fill="#000"/>
<rect x="1405" y="319" width="5" height="5" fill="#000"/>
<rect x="1413" y="309" width="1" height="16" fill="#000"/>
<rect x="1411" y="314" width="5" height="10" fill="#000"/>
<rect x="1412" y="315" width="3" height="8" fill="#fff"/>
<rect x="1419" y="312" width="1" height="15" fill="#000"/>
<rect x="1417" y="312" width="5" height="4" fill="#000"/>
<rect x="1425" y="308" width="1" height="12" fill="#000"/>
<rect x="1423" y="316" width="5" height="1" fill="#000"/>
<rect x="1431" y="308" width="1" height="13" fill="#000"/>
<rect x="1429" y="313" width="5" height="3" fill="#000"/>
<rect x="1430" y="314" width="3" height="1" fill="#fff"/>
<rect x="1437" y="309" width="1" height="11" fill="#000"/>
<rect x="1435" y="314" width="5" height="1" fill="#000"/>
<rect x="1443" y="300" width="1" height="17" fill="#000"/>
<rect x="1441" y="304" width="5" height="10" fill="#000"/>
<rect x="1442" y="305" width="3" height="8" fill="#fff"/>
<rect x="1449" y="300" width="1" height="12" fill="#000"/>
<rect x="1447" y="304" width="5" height="2" fill="#000"/>
<rect x="1455" y="247" width="1" height="97" fill="#000"/>
<rect x="1453" y="275" width="5" height="33" fill="#000"/>
<rect x="1454" y="276" width="3" height="31" fill="#fff"/>
<rect x="1461" y="261" width="1" height="28" fill="#000"/>
<rect x="1459" y="264" width="5" height="10" fill="#000"/>
<rect x="1460" y="265" width="3" height="8" fill="#fff"/>
<rect x="1467" y="232" width="1" height="37" fill="#000"/>
<rect x="1465" y="242" width="5" height="22" fill="#000"/>
<rect x="1466" y="243" width="3" height="20" fill="#fff"/>
<rect x="1473" y="224" width="1" height="29" fill="#000"/>
<rect x="1471" y="242" width="5" height="5" fill="#000"/>
<rect x="1479" y="242" width="1" height="20" fill="#000"/>
<rect x="1477" y="248" width="5" height="1" fill="#000"/>
<rect x="1485" y="220" width="1" height="31" fill="#000"/>
<rect x="1483" y="223" width="5" height="26" fill="#000"/>
<rect x="1484" y="224" width="3" height="24" fill="#fff"/>
<rect x="1491" y="197" width="1" height="27" fill="#000"/>
<rect x="1489" y="200" width="5" height="23" fill="#000"/>
<rect x="1490" y="201" width="3" height="21" fill="#fff"/>
<rect x="1498" y="186" width="1" height="22" fill="#000"/>
<rect x="1496" y="199" width="5" height="3" fill="#000"/>
<rect x="1497" y="200" width="3" height="1" fill="#fff"/>
<rect x="1504" y="194" width="1" height="18" fill="#000"/>
<rect x="1502" y="199" width="5" height="8" fill="#000"/>
<rect x="1510" y="199" width="1" height="21" fill="#000"/>
<rect x="1508" y="208" width="5" height="8" fill="#000"/>
<rect x="1516" y="193" width="1" height="25" fill="#000"/>
<rect x="1514" y="197" width="5" height="20" fill="#000"/>
<rect x="1515" y="198" width="3" height="18" fill="#fff"/>
<rect x="1522" y="191" width="1" height="12" fill="#000"/>
<rect x="1520" y="199" width="5" height="4" fill="#000"/>
<rect x="1528" y="203" width="1" height="154" fill="#000"/>
<rect x="1526" y="205" width="5" height="145" fill="#000"/>
<rect x="1534" y="329" width="1" height="44" fill="#000"/>
<rect x="1532" y="330" width="5" height="20" fill="#000"/>
<rect x="1533" y="331" width="3" height="18" fill="#fff"/>
<rect x="1540" y="332" width="1" height="78" fill="#000"/>
<rect x="1538" y="332" width="5" height="62" fill="#000"/>
<rect x="1546" y="376" width="1" height="42" fill="#000"/>
<rect x="1544" y="390" width="5" height="5" fill="#000"/>
<rect x="1545" y="391" width="3" height="3" fill="#fff"/>
<rect x="1552" y="380" width="1" height="54" fill="#000"/>
<rect x="1550" y="390" width="5" height="40" fill="#000"/>
<rect x="1558" y="400" width="1" height="58" fill="#000"/>
<rect x="1556" y="430" width="5" height="21" fill="#000"/>
<rect x="1564" y="429" width="1" height="43" fill="#000"/>
<rect x="1562" y="438" width="5" height="13" fill="#000"/>
<rect x="1563" y="439" width="3" height="11" fill="#fff"/>
<rect x="1570" y="414" width="1" height="24" fill="#000"/>
<rect x="1568" y="418" width="5" height="20" fill="#000"/>
<rect x="1569" y="419" width="3" height="18" fill="#fff"/>
<rect x="1576" y="416" width="1" height="41" fill="#000"/>
<rect x="1574" y="419" width="5" height="22" fill="#000"/>
<rect x="1582" y="414" width="1" height="30" fill="#000"/>
<rect x="1580" y="435" width="5" height="5" fill="#000"/>
<rect x="1581" y="436" width="3" height="3" fill="#fff"/>
<rect x="1588" y="423" width="1" height="14" fill="#000"/>
<rect x="1586" y="432" width="5" height="3" fill="#000"/>
<rect x="1587" y="433" width="3" height="1" fill="#fff"/>
<rect x="1594" y="422" width="1" height="28" fill="#000"/>
<rect x="1592" y="433" width="5" height="6" fill="#000"/>
</g>
<g shape-rendering="crispEdges">
<rect x="1" y="51" width="1629" height="2" fill="#ff8800"/>
<rect x="1" y="204" width="1629" height="2" fill="#ff8800"/>
<rect x="1" y="254" width="1629" height="2" fill="#ff8800"/>
<rect x="1" y="364" width="1629" height="2" fill="#ff8800"/>
<rect x="1" y="483" width="1629" height="2" fill="#0741a6"/>
<rect x="1" y="594" width="1629" height="2" fill="#0741a6"/>
</g>
<path d="M0.0,120.8C4.2,122.5 16.7,126.8 25.0,130.8C33.3,134.8 43.0,140.1 50.0,145.0C57.0,149.9 61.5,155.3 67.0,160.0C72.5,164.7 77.5,169.6 83.0,173.3C88.5,177.1 94.3,180.5 100.0,182.5C105.7,184.5 111.5,184.5 117.0,185.5C122.5,186.5 127.5,187.3 133.0,188.6C138.5,189.9 144.3,192.0 150.0,193.3C155.7,194.6 161.5,195.3 167.0,196.6C172.5,197.8 177.5,199.3 183.0,200.8C188.5,202.3 194.3,204.4 200.0,205.8C205.7,207.2 211.5,208.5 217.0,209.0C222.5,209.5 227.5,209.2 233.0,209.0C238.5,208.8 244.3,208.3 250.0,207.5C255.7,206.7 262.0,204.9 267.0,204.0C272.0,203.1 275.8,203.5 280.0,202.0C284.2,200.5 288.3,197.2 292.5,195.0C296.7,192.8 298.8,191.2 305.0,188.8C311.2,186.4 321.7,183.4 330.0,180.5C338.3,177.6 346.7,174.1 355.0,171.2C363.3,168.3 373.8,164.9 380.0,163.0C386.2,161.1 387.8,160.4 392.0,159.5C396.2,158.6 398.7,158.1 405.0,157.5C411.3,156.9 421.7,156.3 430.0,156.2C438.3,156.1 446.7,156.4 455.0,157.0C463.3,157.6 471.7,158.6 480.0,159.5C488.3,160.4 496.7,160.9 505.0,162.5C513.3,164.1 521.7,167.1 530.0,168.8C538.3,170.6 546.7,171.6 555.0,173.0C563.3,174.4 571.7,175.0 580.0,177.0C588.3,179.0 596.7,181.8 605.0,185.0C613.3,188.2 623.8,193.7 630.0,196.2C636.2,198.7 638.3,197.9 642.5,200.0C646.7,202.1 648.8,204.6 655.0,208.8C661.2,213.0 672.5,220.2 680.0,225.0C687.5,229.8 693.8,234.0 700.0,237.5C706.2,241.0 711.7,242.9 717.0,245.8C722.3,248.7 726.5,252.3 732.0,255.0C737.5,257.7 742.8,259.3 750.0,261.8C757.2,264.3 767.5,267.5 775.0,270.0C782.5,272.5 788.8,275.2 795.0,277.0C801.2,278.8 807.0,279.2 812.0,280.5C817.0,281.8 818.7,281.8 825.0,285.0C831.3,288.2 841.7,294.5 850.0,299.5C858.3,304.5 868.0,310.9 875.0,315.0C882.0,319.1 887.0,320.4 892.0,323.8C897.0,327.2 898.7,331.3 905.0,335.5C911.3,339.7 921.7,344.9 930.0,348.8C938.3,352.8 946.7,356.4 955.0,359.2C963.3,362.0 973.8,363.3 980.0,365.5C986.2,367.7 987.8,369.7 992.0,372.5C996.2,375.3 1000.8,378.9 1005.0,382.5C1009.2,386.1 1012.8,390.7 1017.0,393.8C1021.2,396.9 1023.7,397.6 1030.0,401.2C1036.3,404.8 1046.7,410.5 1055.0,415.5C1063.3,420.5 1071.7,426.9 1080.0,431.2C1088.3,435.5 1096.7,438.4 1105.0,441.2C1113.3,444.0 1121.7,445.9 1130.0,448.0C1138.3,450.1 1146.7,451.7 1155.0,453.8C1163.3,455.9 1173.8,459.4 1180.0,460.8C1186.2,462.2 1187.8,461.9 1192.0,462.0C1196.2,462.1 1198.7,461.7 1205.0,461.2C1211.3,460.7 1221.7,460.1 1230.0,459.2C1238.3,458.2 1248.8,456.5 1255.0,455.5C1261.2,454.5 1262.8,454.3 1267.0,453.0C1271.2,451.7 1275.8,449.7 1280.0,447.5C1284.2,445.3 1287.5,442.9 1292.0,440.0C1296.5,437.1 1301.5,434.2 1307.0,430.0C1312.5,425.8 1320.0,419.0 1325.0,415.0C1330.0,411.0 1332.8,408.9 1337.0,406.2C1341.2,403.5 1343.7,402.1 1350.0,398.8C1356.3,395.5 1366.7,390.0 1375.0,386.2C1383.3,382.4 1390.8,379.6 1400.0,376.0C1409.2,372.4 1419.7,369.2 1430.0,364.9C1440.3,360.5 1454.1,353.6 1461.6,349.9C1469.1,346.2 1468.6,346.9 1475.0,342.5C1481.4,338.1 1491.9,329.1 1499.8,323.6C1507.7,318.1 1516.6,312.0 1522.3,309.4C1528.0,306.8 1530.0,307.9 1534.0,307.8C1538.0,307.7 1540.5,307.6 1546.4,308.8C1552.4,310.0 1561.7,312.4 1569.7,314.9C1577.8,317.4 1590.5,322.2 1594.7,323.6" fill="none" stroke="#ff8c00" stroke-width="1.0"/>
<path d="M0.0,125.0C4.2,124.2 16.7,120.8 25.0,120.0C33.3,119.2 40.3,119.1 50.0,120.0C59.7,120.9 70.5,124.1 83.0,125.5C95.5,126.9 113.8,126.5 125.0,128.3C136.2,130.1 141.7,133.7 150.0,136.3C158.3,138.9 166.7,141.7 175.0,143.8C183.3,145.9 193.0,147.7 200.0,149.0C207.0,150.3 208.7,150.5 217.0,151.6C225.3,152.7 239.5,154.4 250.0,155.3C260.5,156.2 270.8,156.8 280.0,157.0C289.2,157.2 296.7,156.3 305.0,156.5C313.3,156.7 321.7,157.2 330.0,158.0C338.3,158.8 346.7,159.9 355.0,161.2C363.3,162.4 371.7,164.0 380.0,165.5C388.3,167.0 396.7,168.9 405.0,170.0C413.3,171.1 421.7,171.0 430.0,171.8C438.3,172.6 446.7,173.7 455.0,175.0C463.3,176.3 471.7,177.9 480.0,179.5C488.3,181.1 496.7,182.9 505.0,184.5C513.3,186.1 521.7,188.2 530.0,189.2C538.3,190.2 546.7,190.4 555.0,190.5C563.3,190.6 571.7,190.5 580.0,190.0C588.3,189.5 596.7,187.7 605.0,187.5C613.3,187.3 621.7,188.2 630.0,188.8C638.3,189.4 646.7,190.2 655.0,191.2C663.3,192.2 672.5,193.9 680.0,195.0C687.5,196.1 692.5,196.1 700.0,197.5C707.5,198.9 716.7,201.2 725.0,203.2C733.3,205.1 741.7,207.3 750.0,209.2C758.3,211.1 766.7,212.7 775.0,214.5C783.3,216.3 793.8,218.7 800.0,220.0C806.2,221.3 807.8,221.3 812.0,222.5C816.2,223.7 818.7,224.7 825.0,227.0C831.3,229.3 841.7,233.3 850.0,236.2C858.3,239.1 868.8,242.2 875.0,244.5C881.2,246.8 882.8,247.9 887.0,250.0C891.2,252.1 893.7,253.9 900.0,257.0C906.3,260.1 916.7,264.8 925.0,268.8C933.3,272.8 941.7,277.2 950.0,281.2C958.3,285.1 968.8,289.5 975.0,292.5C981.2,295.5 982.8,296.6 987.0,299.2C991.2,301.8 993.7,303.9 1000.0,308.0C1006.3,312.1 1020.0,320.5 1025.0,323.8C1030.0,327.1 1025.0,325.3 1030.0,328.0C1035.0,330.7 1046.7,336.1 1055.0,340.0C1063.3,343.9 1071.7,347.9 1080.0,351.2C1088.3,354.4 1096.7,356.9 1105.0,359.5C1113.3,362.1 1121.7,364.0 1130.0,367.0C1138.3,370.0 1146.7,374.0 1155.0,377.5C1163.3,381.0 1171.7,384.7 1180.0,388.0C1188.3,391.3 1196.7,395.0 1205.0,397.5C1213.3,400.0 1221.7,401.4 1230.0,403.0C1238.3,404.6 1247.5,406.1 1255.0,406.8C1262.5,407.5 1267.5,407.2 1275.0,407.2C1282.5,407.2 1291.7,406.8 1300.0,406.6C1308.3,406.4 1316.7,406.1 1325.0,406.0C1333.3,405.9 1341.7,405.6 1350.0,405.8C1358.3,406.0 1366.7,407.2 1375.0,407.3C1383.3,407.4 1391.7,406.9 1400.0,406.7C1408.3,406.5 1416.7,406.6 1425.0,406.0C1433.3,405.4 1441.7,404.0 1450.0,402.8C1458.3,401.6 1469.5,399.8 1475.0,398.8C1480.5,397.9 1478.8,398.2 1483.0,397.1C1487.2,396.0 1493.5,394.4 1500.0,392.3C1506.5,390.2 1515.7,386.0 1522.0,384.5C1528.3,383.0 1533.3,383.3 1538.0,383.1C1542.7,382.9 1545.3,383.1 1550.0,383.2C1554.7,383.3 1560.8,383.8 1566.0,384.0C1571.2,384.2 1576.2,384.7 1581.0,384.4C1585.8,384.1 1592.4,382.6 1594.7,382.2" fill="none" stroke="#1152ad" stroke-width="1.05"/>
<path d="M0.0,184.2C5.5,183.8 21.8,182.4 33.0,181.6C44.2,180.8 55.8,180.3 67.0,179.6C78.2,178.9 91.7,177.8 100.0,177.2C108.3,176.6 109.5,176.3 117.0,175.8C124.5,175.3 136.7,174.3 145.0,174.2C153.3,174.1 157.8,174.9 167.0,175.3C176.2,175.7 189.0,176.3 200.0,176.6C211.0,176.9 221.8,177.0 233.0,177.0C244.2,177.0 259.2,176.8 267.0,176.6C274.8,176.4 273.7,176.3 280.0,175.8C286.3,175.3 296.7,174.4 305.0,173.8C313.3,173.2 321.7,172.6 330.0,172.0C338.3,171.4 346.7,170.7 355.0,170.0C363.3,169.3 371.7,168.5 380.0,168.0C388.3,167.5 396.7,167.2 405.0,167.0C413.3,166.8 421.7,166.9 430.0,166.8C438.3,166.7 446.7,166.4 455.0,166.2C463.3,166.0 471.7,165.7 480.0,165.5C488.3,165.3 496.7,165.2 505.0,165.0C513.3,164.8 521.7,164.8 530.0,164.5C538.3,164.2 546.7,163.9 555.0,163.2C563.3,162.4 571.7,161.2 580.0,160.0C588.3,158.8 596.7,157.2 605.0,156.2C613.3,155.2 621.7,154.3 630.0,154.2C638.3,154.1 646.7,154.7 655.0,155.5C663.3,156.3 672.5,158.1 680.0,159.2C687.5,160.2 692.5,160.6 700.0,161.8C707.5,163.0 716.7,164.5 725.0,166.2C733.3,167.9 741.7,170.0 750.0,172.0C758.3,174.0 766.7,176.2 775.0,178.2C783.3,180.2 791.7,181.9 800.0,183.8C808.3,185.7 816.7,187.6 825.0,189.5C833.3,191.4 841.7,193.7 850.0,195.5C858.3,197.3 866.7,198.6 875.0,200.5C883.3,202.4 891.7,204.8 900.0,207.0C908.3,209.2 916.7,211.6 925.0,213.8C933.3,216.1 941.7,218.1 950.0,220.5C958.3,222.9 966.7,225.1 975.0,228.0C983.3,230.9 991.7,234.8 1000.0,238.0C1008.3,241.2 1016.7,244.2 1025.0,247.0C1033.3,249.8 1041.7,252.3 1050.0,255.0C1058.3,257.7 1066.7,260.5 1075.0,263.0C1083.3,265.5 1091.7,267.8 1100.0,270.0C1108.3,272.2 1116.7,274.1 1125.0,276.2C1133.3,278.3 1141.7,280.6 1150.0,282.5C1158.3,284.4 1166.7,285.9 1175.0,287.5C1183.3,289.1 1191.7,290.6 1200.0,291.8C1208.3,293.1 1216.7,294.1 1225.0,295.0C1233.3,295.9 1241.7,296.7 1250.0,297.5C1258.3,298.3 1266.7,299.2 1275.0,300.0C1283.3,300.8 1291.7,301.7 1300.0,302.5C1308.3,303.3 1316.7,304.1 1325.0,305.0C1333.3,305.9 1341.7,307.0 1350.0,308.0C1358.3,309.0 1366.7,309.9 1375.0,310.8C1383.3,311.7 1391.7,312.2 1400.0,313.1C1408.3,314.0 1415.8,315.2 1425.0,316.2C1434.2,317.2 1446.7,318.3 1455.0,319.2C1463.3,320.1 1467.5,320.8 1475.0,321.5C1482.5,322.2 1491.2,322.7 1500.0,323.5C1508.8,324.3 1520.3,325.1 1528.0,326.2C1535.7,327.3 1539.0,328.4 1546.0,330.0C1553.0,331.6 1561.9,333.7 1570.0,335.7C1578.1,337.7 1590.6,340.9 1594.7,341.9" fill="none" stroke="#ff10f4" stroke-width="1.25"/>
<rect x="1" y="439" width="1629" height="1" fill="#2e4a75" shape-rendering="crispEdges"/>
<path d="M1631,439.5 L1634,435.5 L1634,432.5 Q1634,432 1634.5,432 L1687.5,432 Q1688,432 1688,432.5 L1688,446 Q1688,446.5 1687.5,446.5 L1634.5,446.5 Q1634,446.5 1634,446 L1634,443.5 Z" fill="#2e4a75"/>
<text x="1639" y="443.5" fill="#fff" font-weight="bold">108.5765</text>
<rect x="5" y="5" width="77" height="22" fill="rgba(0,0,0,0.62)" shape-rendering="crispEdges"/>
<rect x="5" y="5" width="3" height="22" fill="#000000" shape-rendering="crispEdges"/>
<text x="17" y="20.7" fill="#fff" font-weight="bold">USD/JPY</text>
<rect x="5" y="32" width="85" height="22" fill="rgba(0,0,0,0.62)" shape-rendering="crispEdges"/>
<rect x="5" y="32" width="3" height="22" fill="#ff8c00" shape-rendering="crispEdges"/>
<text x="17" y="47.7" fill="#fff" font-weight="bold">SMA (50,0)</text>
<rect x="5" y="59" width="91" height="22" fill="rgba(0,0,0,0.62)" shape-rendering="crispEdges"/>
<rect x="5" y="59" width="3" height="22" fill="#0b4db0" shape-rendering="crispEdges"/>
<text x="17" y="74.7" fill="#fff" font-weight="bold">SMA (100,0)</text>
<rect x="5" y="86" width="91" height="22" fill="rgba(0,0,0,0.62)" shape-rendering="crispEdges"/>
<rect x="5" y="86" width="3" height="22" fill="#ff00ff" shape-rendering="crispEdges"/>
<text x="17" y="101.7" fill="#fff" font-weight="bold">SMA (200,0)</text>
</svg></body></html>
